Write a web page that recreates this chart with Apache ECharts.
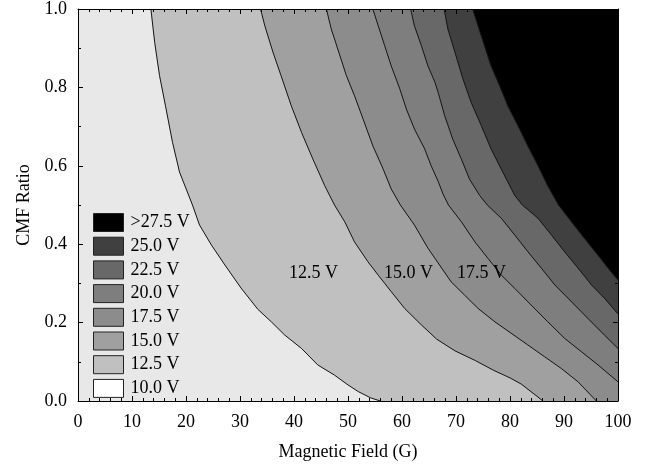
<!DOCTYPE html>
<html>
<head>
<meta charset="utf-8">
<script src="https://cdn.jsdelivr.net/npm/echarts@6/dist/echarts.min.js"></script>
<style>
html,body{margin:0;padding:0;background:#fff;}
#chart{width:650px;height:468px;}
</style>
</head>
<body>
<div id="chart"></div>
<script>
// Contour levels (legend, low to high) and fill colours
const levelNames = ['10.0 V', '12.5 V', '15.0 V', '17.5 V', '20.0 V', '22.5 V', '25.0 V', '>27.5 V'];
const levelColors = ['#e8e8e8', '#c0c0c0', '#a0a0a0', '#8c8c8c', '#7e7e7e', '#686868', '#404040', '#000000'];
const legendColors = ['#ffffff', '#c0c0c0', '#a0a0a0', '#8c8c8c', '#7e7e7e', '#686868', '#404040', '#000000'];

// Boundary curves [Magnetic Field (G), CMF Ratio], lower edge of each level
const curve12_5 = [[13.5,1.0],[14.2,0.915],[15.1,0.83],[16.2,0.753],[17.5,0.66],[18.8,0.584],[21.2,0.5],[22.5,0.449],[24.7,0.398],[27.2,0.347],[30.2,0.288],[33.3,0.234],[35.8,0.202],[38.3,0.168],[41.4,0.134],[44.4,0.092],[47.5,0.066],[50.0,0.041],[51.9,0.024],[54.2,0.008],[56.0,0.0]];
const curve15_0 = [[33.8,1.0],[34.6,0.957],[36.1,0.89],[37.6,0.83],[39.5,0.753],[41.4,0.685],[43.5,0.617],[45.7,0.549],[47.5,0.5],[49.4,0.457],[51.2,0.406],[53.7,0.355],[55.6,0.321],[58.0,0.279],[60.5,0.236],[63.6,0.194],[66.4,0.158],[69.8,0.128],[73.6,0.103],[77.0,0.078],[80.0,0.059],[82.1,0.043],[85.0,0.012],[86.1,0.0]];
const curve17_5 = [[46.0,1.0],[46.9,0.949],[48.1,0.898],[49.7,0.83],[51.2,0.779],[52.8,0.719],[54.6,0.651],[56.5,0.592],[58.0,0.541],[59.7,0.5],[62.3,0.449],[64.8,0.39],[66.7,0.352],[69.1,0.304],[71.6,0.27],[74.1,0.236],[77.2,0.202],[80.2,0.173],[83.3,0.143],[86.4,0.113],[89.5,0.083],[92.6,0.049],[96.0,0.0]];
const curve20_0 = [[54.6,1.0],[55.6,0.957],[56.8,0.906],[58.0,0.855],[59.6,0.796],[60.8,0.745],[62.3,0.694],[64.2,0.643],[65.4,0.6],[66.7,0.56],[67.6,0.528],[68.6,0.5],[71.0,0.457],[73.5,0.406],[75.9,0.364],[78.4,0.321],[80.9,0.287],[83.9,0.245],[87.0,0.202],[90.1,0.16],[93.2,0.126],[96.3,0.092],[100,0.049]];
const curve22_5 = [[61.6,1.0],[62.3,0.957],[63.6,0.906],[64.8,0.855],[66.1,0.813],[66.7,0.787],[67.9,0.728],[69.4,0.668],[71.0,0.617],[72.5,0.566],[74.4,0.524],[75.8,0.5],[78.4,0.466],[80.9,0.423],[83.3,0.381],[85.8,0.339],[88.3,0.296],[91.4,0.253],[94.4,0.211],[97.5,0.168],[100,0.134]];
const curve25_0 = [[67.8,1.0],[68.5,0.949],[69.8,0.89],[71.3,0.821],[72.8,0.762],[74.7,0.702],[76.5,0.643],[78.7,0.583],[80.9,0.524],[82.3,0.5],[85.2,0.466],[87.7,0.423],[90.1,0.381],[92.6,0.339],[95.1,0.296],[97.5,0.262],[100,0.222]];
const curve27_5 = [[73.1,1.0],[74.1,0.957],[75.3,0.906],[76.5,0.855],[78.1,0.804],[79.6,0.753],[81.5,0.702],[83.3,0.651],[85.2,0.6],[87.0,0.549],[89.0,0.5],[91.4,0.457],[93.8,0.415],[96.3,0.372],[98.7,0.33],[100,0.309]];
const fullDomain = [[0,0],[100,0],[100,1],[0,1]];

// In-plot contour labels
const labelText = ['12.5 V', '15.0 V', '17.5 V'];
const labelX = [43.6, 61.2, 74.7];
const labelY = [0.326, 0.326, 0.326];

const boundaries = [curve12_5, curve15_0, curve17_5, curve20_0, curve22_5, curve25_0, curve27_5];

function regionPolygon(curve) {
  const pts = curve.slice();
  const last = pts[pts.length - 1];
  if (last[1] <= 0 && last[0] < 100) pts.push([100, 0]);
  pts.push([100, 1]);
  return pts;
}

const FONT = 'Liberation Serif';
const polys = [fullDomain].concat(boundaries.map(regionPolygon));

const series = [];
polys.forEach((poly, i) => {
  series.push({
    type: 'custom',
    name: levelNames[i],
    clip: true,
    silent: true,
    z: 1,
    itemStyle: { color: levelColors[i] },
    data: [[0, 0]],
    renderItem: function (params, api) {
      return {
        type: 'polygon',
        shape: { points: poly.map(p => api.coord(p)) },
        style: { fill: levelColors[i], stroke: levelColors[i], lineWidth: 0.5 }
      };
    }
  });
});
boundaries.forEach((c, i) => {
  series.push({
    type: 'line',
    name: 'b' + i,
    data: c,
    symbol: 'none',
    silent: true,
    clip: true,
    z: 1,
    lineStyle: { color: '#151515', width: 1 }
  });
});
series.push({
  type: 'custom',
  name: 'labels',
  silent: true,
  z: 5,
  data: labelX.map((x, i) => [x, labelY[i]]),
  renderItem: function (params, api) {
    const p = api.coord([api.value(0), api.value(1)]);
    return {
      type: 'text',
      x: p[0], y: p[1],
      style: { text: labelText[params.dataIndex], fontFamily: FONT, fontSize: 18, fill: '#000', align: 'center', verticalAlign: 'middle' }
    };
  }
});

function xAxisBase() {
  return {
    type: 'value', min: 0, max: 100, interval: 10, z: 20,
    axisLine: { show: true, onZero: false, lineStyle: { color: '#000', width: 1 } },
    axisTick: { show: true, inside: true, length: 5, lineStyle: { color: '#000', width: 1 } },
    minorTick: { show: true, splitNumber: 5, length: 3, lineStyle: { color: '#000', width: 1 } },
    splitLine: { show: false }
  };
}
function yAxisBase() {
  return {
    type: 'value', min: 0, max: 1, interval: 0.2, z: 20,
    axisLine: { show: true, onZero: false, lineStyle: { color: '#000', width: 1 } },
    axisTick: { show: true, inside: true, length: 5, lineStyle: { color: '#000', width: 1 } },
    minorTick: { show: true, splitNumber: 2, length: 3, lineStyle: { color: '#000', width: 1 } },
    splitLine: { show: false }
  };
}

const option = {
  animation: false,
  backgroundColor: '#ffffff',
  grid: { left: 78, right: 32, top: 9, bottom: 67 },
  legend: {
    orient: 'vertical', left: 93, top: 213, padding: 0, z: 10,
    icon: 'rect', itemWidth: 30, itemHeight: 18, itemGap: 4.7,
    selectedMode: false,
    textStyle: { fontFamily: FONT, fontSize: 18, color: '#000', lineHeight: 18, padding: [0, 0, 0, 2] },
    data: levelNames.slice().reverse().map(n => {
      const i = levelNames.indexOf(n);
      return { name: n, itemStyle: { color: legendColors[i], borderColor: '#222', borderWidth: 1 } };
    })
  },
  xAxis: [
    Object.assign(xAxisBase(), {
      position: 'bottom',
      name: 'Magnetic Field (G)', nameLocation: 'middle', nameGap: 42,
      nameTextStyle: { fontFamily: FONT, fontSize: 18, color: '#000' },
      axisLabel: { fontFamily: FONT, fontSize: 18, color: '#000', margin: 12 }
    }),
    Object.assign(xAxisBase(), { position: 'top', axisLabel: { show: false } })
  ],
  yAxis: [
    Object.assign(yAxisBase(), {
      position: 'left',
      name: 'CMF Ratio', nameLocation: 'middle', nameGap: 45,
      nameTextStyle: { fontFamily: FONT, fontSize: 18, color: '#000' },
      axisLabel: { fontFamily: FONT, fontSize: 18, color: '#000', margin: 11, formatter: v => v.toFixed(1) }
    }),
    Object.assign(yAxisBase(), { position: 'right', axisLabel: { show: false } })
  ],
  series: series
};

const chart = echarts.init(document.getElementById('chart'), null, { renderer: 'canvas' });
chart.setOption(option);
</script>
</body>
</html>
